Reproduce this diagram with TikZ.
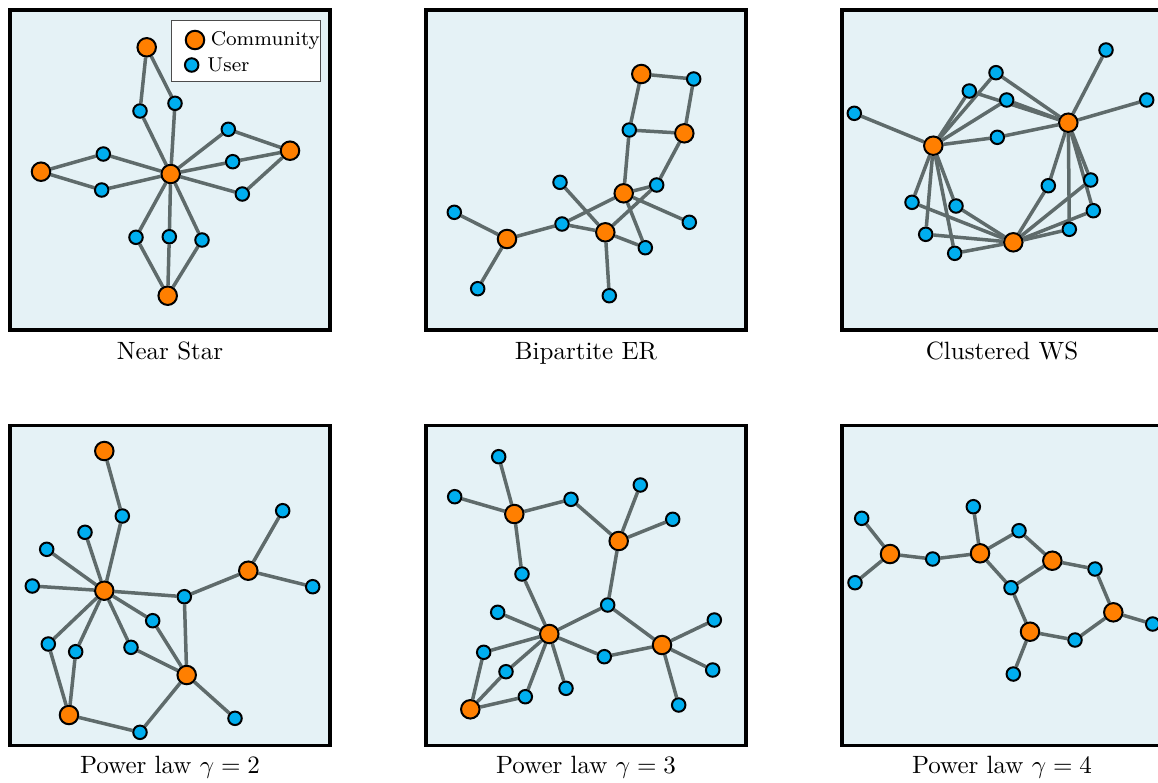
\documentclass[tikz,border=0pt]{standalone}
\usepackage{tikz}
\usetikzlibrary{positioning}

\definecolor{commorange}{HTML}{FF7F00}
\definecolor{userblue}{HTML}{00AEEF}
\definecolor{edgegray}{HTML}{5F6B6B}
\definecolor{panelbg}{HTML}{E5F2F6}

\pgfdeclarelayer{panels}
\pgfdeclarelayer{links}
\pgfsetlayers{panels,links,main}

\tikzset{
  community/.style={circle, draw=black, line width=0.8pt, fill=commorange,
    minimum size=7.4pt, inner sep=0pt},
  user/.style={circle, draw=black, line width=0.8pt, fill=userblue,
    minimum size=5.4pt, inner sep=0pt},
  link/.style={draw=edgegray, line width=1.4pt},
  panel/.style={draw=black, line width=1.4pt, fill=panelbg,
    minimum size=128pt, inner sep=0pt},
  caption/.style={font=\normalsize, anchor=base},
  legendtext/.style={font=\footnotesize, inner sep=1pt, anchor=west}
}

\begin{document}
\begin{tikzpicture}[x=0.4pt, y=-0.4pt]
\clip (0,0) rectangle (1158,782);

% frames
\begin{pgfonlayer}{panels}
\node[panel] (p1) at (170,170)    {};
\node[panel] (p2) at (586,170)    {};
\node[panel] (p3) at (1002,170)   {};
\node[panel] (p4) at (170,585.5)  {};
\node[panel] (p5) at (586,585.5)  {};
\node[panel] (p6) at (1002,585.5) {};
\end{pgfonlayer}

\node[caption] (t1) at (170,359)  {Near Star};
\node[caption] (t2) at (586,359)  {Bipartite ER};
\node[caption] (t3) at (1002,359) {Clustered WS};
\node[caption] (t4) at (170,773)  {Power law $\gamma = 2$};
\node[caption] (t5) at (586,773)  {Power law $\gamma = 3$};
\node[caption] (t6) at (1002,773) {Power law $\gamma = 4$};

% near star
\node[community] (nsh)  at (170.7,174)   {};
\node[community] (nsc1) at (146.7,47.3)  {};
\node[community] (nsc2) at (290,150.7)   {};
\node[community] (nsc3) at (41,171.7)    {};
\node[community] (nsc4) at (167.7,295.7) {};
\node[user] (nsu1)  at (140,111)   {};
\node[user] (nsu2)  at (175,103.3) {};
\node[user] (nsu3)  at (228.3,129.3) {};
\node[user] (nsu4)  at (232.7,161.7) {};
\node[user] (nsu5)  at (242.3,194) {};
\node[user] (nsu6)  at (103.3,154) {};
\node[user] (nsu7)  at (101.7,190) {};
\node[user] (nsu8)  at (136,237.3) {};
\node[user] (nsu9)  at (169.3,236.7) {};
\node[user] (nsu10) at (202,240)   {};

% legend
\draw[draw=black!70, line width=0.4pt, fill=white] (171.7,20) rectangle (320,81.7);
\node[community] (lgc) at (195,40)   {};
\node[user]      (lgu) at (191.7,65) {};
\node[legendtext, right=1pt of lgc] {Community};
\node[legendtext, right=2pt of lgu] {User};

% bipartite ER
\node[community] (erc1) at (641.3,74)    {};
\node[community] (erc2) at (684.3,133.3) {};
\node[community] (erc3) at (623.7,193.3) {};
\node[community] (erc4) at (605.3,232.3) {};
\node[community] (erc5) at (507,239)     {};
\node[user] (eru1)  at (693.7,79)    {};
\node[user] (eru2)  at (629.3,130)   {};
\node[user] (eru3)  at (560,182.3)   {};
\node[user] (eru4)  at (656.7,185)   {};
\node[user] (eru5)  at (454.3,212.3) {};
\node[user] (eru6)  at (689.3,222.3) {};
\node[user] (eru7)  at (562,224)     {};
\node[user] (eru8)  at (645.3,247.7) {};
\node[user] (eru9)  at (477.7,288.7) {};
\node[user] (eru10) at (609.3,295.7) {};

% clustered WS
\node[community] (wsc1) at (1068.3,122.7) {};
\node[community] (wsc2) at (933.3,145.7)  {};
\node[community] (wsc3) at (1013.3,242.3) {};
\node[user] (wsu1)  at (1106,50)      {};
\node[user] (wsu2)  at (996,72.7)     {};
\node[user] (wsu3)  at (969.3,91)     {};
\node[user] (wsu4)  at (1006.7,100)   {};
\node[user] (wsu5)  at (1146.7,100)   {};
\node[user] (wsu6)  at (854.3,113.3)  {};
\node[user] (wsu7)  at (997.3,137.3)  {};
\node[user] (wsu8)  at (1048.3,185.7) {};
\node[user] (wsu9)  at (1090.7,180)   {};
\node[user] (wsu10) at (912,202.3)    {};
\node[user] (wsu11) at (956,206)      {};
\node[user] (wsu12) at (1093.3,210.7) {};
\node[user] (wsu13) at (1069.3,229.3) {};
\node[user] (wsu14) at (925.7,234.3)  {};
\node[user] (wsu15) at (954.7,253.3)  {};

% power law 2
\node[community] (pah)  at (104.3,590.7) {};
\node[community] (pac1) at (104.3,451)   {};
\node[community] (pac2) at (248.3,570.7) {};
\node[community] (pac3) at (186.7,675)   {};
\node[community] (pac4) at (69,715)      {};
\node[user] (pau1)  at (122.3,516)   {};
\node[user] (pau2)  at (85,532.3)    {};
\node[user] (pau3)  at (46.7,549.3)  {};
\node[user] (pau4)  at (282.7,510.7) {};
\node[user] (pau5)  at (32.3,586)    {};
\node[user] (pau6)  at (312.7,586.7) {};
\node[user] (pau7)  at (184.3,596.7) {};
\node[user] (pau8)  at (152.7,620.7) {};
\node[user] (pau9)  at (48.3,644)    {};
\node[user] (pau10) at (75.7,651.7)  {};
\node[user] (pau11) at (131,647.3)   {};
\node[user] (pau12) at (235,718.3)   {};
\node[user] (pau13) at (140,732.3)   {};

% power law 3
\node[community] (pbh)  at (549.3,634)   {};
\node[community] (pbc1) at (514.3,514)   {};
\node[community] (pbc2) at (618.7,541)   {};
\node[community] (pbc4) at (662,645)     {};
\node[community] (pbc5) at (470.3,709.3) {};
\node[user] (pbu1)  at (498.7,456.7) {};
\node[user] (pbu2)  at (454.7,496.7) {};
\node[user] (pbu3)  at (571,499.3)   {};
\node[user] (pbu4)  at (640.3,485)   {};
\node[user] (pbu5)  at (672.7,519.3) {};
\node[user] (pbu6)  at (522,574)     {};
\node[user] (pbu7)  at (607.7,605)   {};
\node[user] (pbu8)  at (497.7,612.3) {};
\node[user] (pbu9)  at (714.3,620)   {};
\node[user] (pbu10) at (483.7,652.3) {};
\node[user] (pbu11) at (604.3,656.7) {};
\node[user] (pbu12) at (506,671.7)   {};
\node[user] (pbu13) at (712.7,670)   {};
\node[user] (pbu14) at (566,688.3)   {};
\node[user] (pbu15) at (525.3,696.7) {};
\node[user] (pbu16) at (678.7,705)   {};

% power law 4
\node[community] (pcc1) at (890,554)      {};
\node[community] (pcc2) at (980,553.3)    {};
\node[community] (pcc3) at (1052.3,560.7) {};
\node[community] (pcc4) at (1113.3,612.3) {};
\node[community] (pcc5) at (1030,631.7)   {};
\node[user] (pcu1)  at (861.7,518.3) {};
\node[user] (pcu2)  at (973.3,506.7) {};
\node[user] (pcu3)  at (1019,530.7)  {};
\node[user] (pcu4)  at (932.7,559)   {};
\node[user] (pcu5)  at (1095,569)    {};
\node[user] (pcu6)  at (855,582.7)   {};
\node[user] (pcu7)  at (1011,587.7)  {};
\node[user] (pcu8)  at (1152.7,624)  {};
\node[user] (pcu9)  at (1075,640)    {};
\node[user] (pcu10) at (1013.3,674)  {};

% edges, kept under the nodes
\begin{pgfonlayer}{links}
\foreach \a/\b in {nsc1/nsu1, nsc1/nsu2, nsu1/nsh, nsu2/nsh, nsh/nsu3, nsh/nsu4,
    nsh/nsu5, nsu3/nsc2, nsu4/nsc2, nsu5/nsc2, nsh/nsu6, nsh/nsu7, nsu6/nsc3,
    nsu7/nsc3, nsh/nsu8, nsh/nsu9, nsh/nsu10, nsu8/nsc4, nsu9/nsc4, nsu10/nsc4}
  \draw[link] (\a) -- (\b);
\foreach \a/\b in {erc1/eru1, erc1/eru2, eru2/erc2, eru1/erc2, eru2/erc3,
    erc2/eru4, eru4/erc3, eru4/erc4, erc3/eru7, erc3/eru6, erc3/eru8,
    eru3/erc4, eru7/erc4, erc4/eru8, erc4/eru10, erc5/eru7, erc5/eru5, erc5/eru9}
  \draw[link] (\a) -- (\b);
\foreach \a/\b in {wsc2/wsu6, wsc2/wsu3, wsc2/wsu2, wsc2/wsu4, wsc2/wsu7,
    wsu2/wsc1, wsu3/wsc1, wsu4/wsc1, wsu7/wsc1, wsc1/wsu1, wsc1/wsu5,
    wsc1/wsu8, wsc1/wsu9, wsc1/wsu12, wsc1/wsu13, wsc3/wsu8, wsc3/wsu9,
    wsc3/wsu12, wsc3/wsu13, wsc2/wsu10, wsc2/wsu11, wsc2/wsu14, wsc2/wsu15,
    wsc3/wsu10, wsc3/wsu11, wsc3/wsu14, wsc3/wsu15}
  \draw[link] (\a) -- (\b);
\foreach \a/\b in {pac1/pau1, pau1/pah, pah/pau2, pah/pau3, pah/pau5, pah/pau7,
    pah/pau8, pah/pau9, pah/pau10, pah/pau11, pau7/pac2, pac2/pau4, pac2/pau6,
    pau7/pac3, pau8/pac3, pau11/pac3, pac3/pau12, pac3/pau13, pac4/pau13,
    pac4/pau9, pac4/pau10}
  \draw[link] (\a) -- (\b);
\foreach \a/\b in {pbc1/pbu1, pbc1/pbu2, pbc1/pbu3, pbu3/pbc2, pbc2/pbu4,
    pbc2/pbu5, pbc2/pbu7, pbc1/pbu6, pbu6/pbh, pbh/pbu8, pbh/pbu7, pbu7/pbc4,
    pbh/pbu10, pbh/pbu12, pbh/pbu15, pbh/pbu14, pbh/pbu11, pbu11/pbc4,
    pbc4/pbu9, pbc4/pbu13, pbc4/pbu16, pbc5/pbu10, pbc5/pbu12, pbc5/pbu15}
  \draw[link] (\a) -- (\b);
\foreach \a/\b in {pcc1/pcu1, pcc1/pcu6, pcc1/pcu4, pcu4/pcc2, pcc2/pcu2,
    pcc2/pcu3, pcu3/pcc3, pcc2/pcu7, pcu7/pcc3, pcc3/pcu5, pcu5/pcc4,
    pcc4/pcu8, pcu7/pcc5, pcc5/pcu9, pcu9/pcc4, pcc5/pcu10}
  \draw[link] (\a) -- (\b);
\end{pgfonlayer}
\end{tikzpicture}
\end{document}
